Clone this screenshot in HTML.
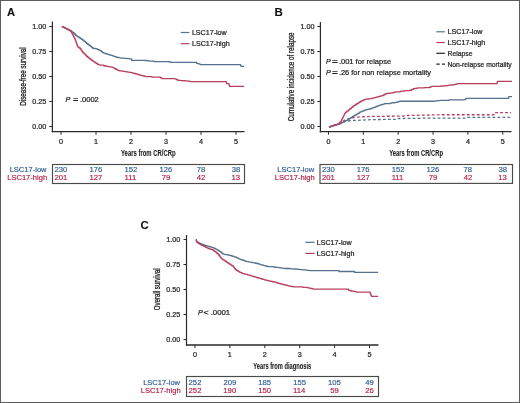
<!DOCTYPE html>
<html><head><meta charset="utf-8"><style>
html,body{margin:0;padding:0;background:#fff;}
svg{display:block;will-change:transform;font-family:"Liberation Sans",sans-serif;}
</style></head><body>
<svg width="520" height="403" viewBox="0 0 520 403">
<rect x="0.5" y="0.5" width="519" height="402" fill="#fff" stroke="#5c5c5c" stroke-width="1"/>
<text x="6.92" y="15.6" font-size="10.6" font-weight="bold" fill="#111" stroke="#111" stroke-width="0.1" textLength="8.07" lengthAdjust="spacingAndGlyphs">A</text>
<path d="M52.4,21.5V132.29999999999998" fill="none" stroke="#2a2a2a" stroke-width="1.2"/>
<path d="M51.8,131.7H244.5" fill="none" stroke="#2a2a2a" stroke-width="1.3"/>
<path d="M49.4,126.5H52.4" stroke="#2a2a2a" stroke-width="1"/>
<text x="32.17" y="129.1" font-size="7.2" fill="#1e1e1e" stroke="#1e1e1e" stroke-width="0.22">0.00</text>
<path d="M49.4,101.5H52.4" stroke="#2a2a2a" stroke-width="1"/>
<text x="32.19" y="104.1" font-size="7.2" fill="#1e1e1e" stroke="#1e1e1e" stroke-width="0.22">0.25</text>
<path d="M49.4,76.5H52.4" stroke="#2a2a2a" stroke-width="1"/>
<text x="32.17" y="79.1" font-size="7.2" fill="#1e1e1e" stroke="#1e1e1e" stroke-width="0.22">0.50</text>
<path d="M49.4,51.5H52.4" stroke="#2a2a2a" stroke-width="1"/>
<text x="32.19" y="54.1" font-size="7.2" fill="#1e1e1e" stroke="#1e1e1e" stroke-width="0.22">0.75</text>
<path d="M49.4,26.5H52.4" stroke="#2a2a2a" stroke-width="1"/>
<text x="32.17" y="29.1" font-size="7.2" fill="#1e1e1e" stroke="#1e1e1e" stroke-width="0.22">1.00</text>
<path d="M61,131.7V134.8" stroke="#2a2a2a" stroke-width="1"/>
<text x="59" y="143.9" font-size="7.2" fill="#1e1e1e" stroke="#1e1e1e" stroke-width="0.22">0</text>
<path d="M96,131.7V134.8" stroke="#2a2a2a" stroke-width="1"/>
<text x="93.9" y="143.9" font-size="7.2" fill="#1e1e1e" stroke="#1e1e1e" stroke-width="0.22">1</text>
<path d="M131,131.7V134.8" stroke="#2a2a2a" stroke-width="1"/>
<text x="129" y="143.9" font-size="7.2" fill="#1e1e1e" stroke="#1e1e1e" stroke-width="0.22">2</text>
<path d="M166,131.7V134.8" stroke="#2a2a2a" stroke-width="1"/>
<text x="164.02" y="143.9" font-size="7.2" fill="#1e1e1e" stroke="#1e1e1e" stroke-width="0.22">3</text>
<path d="M201,131.7V134.8" stroke="#2a2a2a" stroke-width="1"/>
<text x="199.02" y="143.9" font-size="7.2" fill="#1e1e1e" stroke="#1e1e1e" stroke-width="0.22">4</text>
<path d="M236,131.7V134.8" stroke="#2a2a2a" stroke-width="1"/>
<text x="234" y="143.9" font-size="7.2" fill="#1e1e1e" stroke="#1e1e1e" stroke-width="0.22">5</text>
<text x="121" y="156.3" font-size="8.8" font-weight="bold" fill="#1e1e1e" stroke="#1e1e1e" stroke-width="0.1" textLength="54.64" lengthAdjust="spacingAndGlyphs">Years from CR/CRp</text>
<text transform="translate(25.9,105.71) rotate(-90)" font-size="8.7" fill="#1e1e1e" stroke="#1e1e1e" stroke-width="0.3" textLength="58.43" lengthAdjust="spacingAndGlyphs">Disease-free survival</text>
<polyline points="61.7,26.55 62.93,26.55 62.93,27.18 64.17,27.18 64.17,27.82 65.4,27.82 65.4,28.45 66.65,28.45 66.65,29.07 67.9,29.07 67.9,29.7 69.15,29.7 69.15,30.32 70.4,30.32 70.4,30.95 71.65,30.95 71.65,31.85 72.9,31.85 72.9,32.75 74.15,32.75 74.15,34 75.4,34 75.4,35.25 76.63,35.25 76.63,36.08 77.87,36.08 77.87,36.92 79.1,36.92 79.1,37.75 80.33,37.75 80.33,38.58 81.57,38.58 81.57,39.42 82.8,39.42 82.8,40.25 84.03,40.25 84.03,41.28 85.27,41.28 85.27,42.32 86.5,42.32 86.5,43.35 87.77,43.35 87.77,44.38 89.03,44.38 89.03,45.42 90.3,45.42 90.3,46.45 91.5,46.45 91.5,47.35 92.7,47.35 92.7,48.25 93.97,48.25 93.97,48.48 95.23,48.48 95.23,48.72 96.5,48.72 96.5,48.95 97.73,48.95 97.73,49.55 98.97,49.55 98.97,50.15 100.2,50.15 100.2,50.75 101.35,50.75 101.35,51.7 102.5,51.7 102.5,52.65 103.73,52.65 103.73,53.08 104.97,53.08 104.97,53.52 106.2,53.52 106.2,53.95 107.45,53.95 107.45,54.33 108.7,54.33 108.7,54.7 109.95,54.7 109.95,55.08 111.2,55.08 111.2,55.45 112.83,55.45 112.83,56.05 114.47,56.05 114.47,56.65 116.1,56.65 116.1,57.25 117.35,57.25 117.35,57.45 118.6,57.45 118.6,57.65 119.85,57.65 119.85,57.85 121.1,57.85 121.1,58.05 122.55,58.05 122.55,58.18 124,58.18 124,58.32 125.45,58.32 125.45,58.45 126.9,58.45 126.9,58.58 128.35,58.58 128.35,58.72 129.8,58.72 129.8,58.85 131.6,58.85 131.6,60.35 143.4,60.35 144.95,60.35 144.95,60.52 146.5,60.52 146.5,60.7 148.05,60.7 148.05,60.88 149.6,60.88 149.6,61.05 152,61.05 152,61.15 154,61.15 154,61.65 167.8,61.65 169.3,61.65 169.3,62 170.8,62 170.8,62.35 194.6,62.35 196.6,62.35 196.6,63.35 198,63.35 198,63.65 199.25,63.65 199.25,64.15 200.5,64.15 200.5,64.65 240.1,64.65 240.6,64.65 240.6,65.55 241.1,65.55 241.1,66.45 244.1,66.45" fill="none" stroke="#56728e" stroke-width="1.3" stroke-linejoin="round"/>
<polyline points="61.7,26.55 62.93,26.55 62.93,27.18 64.17,27.18 64.17,27.82 65.4,27.82 65.4,28.45 66.87,28.45 66.87,29.18 68.33,29.18 68.33,29.92 69.8,29.92 69.8,30.65 70.7,30.65 70.7,31.7 71.6,31.7 71.6,32.75 72.23,32.75 72.23,34.02 72.87,34.02 72.87,35.28 73.5,35.28 73.5,36.55 74.13,36.55 74.13,37.78 74.77,37.78 74.77,39.02 75.4,39.02 75.4,40.25 75.8,40.25 75.8,41.48 76.2,41.48 76.2,42.72 76.6,42.72 76.6,43.95 77.03,43.95 77.03,44.98 77.47,44.98 77.47,46.02 77.9,46.02 77.9,47.05 79.1,47.05 79.1,48 80.3,48 80.3,48.95 81.13,48.95 81.13,50.18 81.97,50.18 81.97,51.42 82.8,51.42 82.8,52.65 84.03,52.65 84.03,53.88 85.27,53.88 85.27,55.12 86.5,55.12 86.5,56.35 87.77,56.35 87.77,57.38 89.03,57.38 89.03,58.42 90.3,58.42 90.3,59.45 91.53,59.45 91.53,60.28 92.77,60.28 92.77,61.12 94,61.12 94,61.95 95.23,61.95 95.23,62.78 96.47,62.78 96.47,63.62 97.7,63.62 97.7,64.45 98.85,64.45 98.85,64.8 100,64.8 100,65.15 103.7,65.15 103.7,65.75 105.15,65.75 105.15,66.02 106.6,66.02 106.6,66.28 108.05,66.28 108.05,66.55 109.5,66.55 109.5,66.82 110.95,66.82 110.95,67.08 112.4,67.08 112.4,67.35 113.63,67.35 113.63,68.05 114.87,68.05 114.87,68.75 116.1,68.75 116.1,69.45 117.35,69.45 117.35,70.05 118.6,70.05 118.6,70.65 120.15,70.65 120.15,70.88 121.7,70.88 121.7,71.1 123.25,71.1 123.25,71.33 124.8,71.33 124.8,71.55 126.35,71.55 126.35,71.8 127.9,71.8 127.9,72.05 129.45,72.05 129.45,72.3 131,72.3 131,72.55 132.55,72.55 132.55,73.03 134.1,73.03 134.1,73.5 135.65,73.5 135.65,73.97 137.2,73.97 137.2,74.45 138.45,74.45 138.45,74.75 139.7,74.75 139.7,75.05 140.95,75.05 140.95,75.35 142.2,75.35 142.2,75.65 143.43,75.65 143.43,75.98 144.67,75.98 144.67,76.32 145.9,76.32 145.9,76.65 150,76.65 152,76.65 152,77.05 158.9,77.05 160.4,77.05 160.4,77.8 161.9,77.8 161.9,78.55 174.8,78.55 174.8,78.85 176.3,78.85 176.3,79.6 177.8,79.6 177.8,80.35 179.21,80.35 179.21,80.45 180.63,80.45 180.63,80.55 182.04,80.55 182.04,80.65 183.46,80.65 183.46,80.75 184.87,80.75 184.87,80.85 186.29,80.85 186.29,80.95 187.7,80.95 187.7,81.05 189.7,81.05 189.7,81.55 225.8,81.55 226.2,81.55 226.2,82.55 226.6,82.55 226.6,83.55 228.7,83.55 228.7,83.65 228.97,83.65 228.97,84.58 229.23,84.58 229.23,85.52 229.5,85.52 229.5,86.45 244.1,86.45" fill="none" stroke="#b8405f" stroke-width="1.3" stroke-linejoin="round"/>
<path d="M180.8,32.5H189.4" stroke="#56728e" stroke-width="1.2"/>
<text x="191.92" y="34.8" font-size="7.0" fill="#1e1e1e" stroke="#1e1e1e" stroke-width="0.22" textLength="34.77" lengthAdjust="spacingAndGlyphs">LSC17-low</text>
<path d="M180.8,43.7H189.4" stroke="#b8405f" stroke-width="1.2"/>
<text x="191.91" y="46" font-size="7.0" fill="#1e1e1e" stroke="#1e1e1e" stroke-width="0.22" textLength="37.75" lengthAdjust="spacingAndGlyphs">LSC17-high</text>
<text x="65.58" y="101.6" font-size="7.2" font-style="italic" fill="#1e1e1e" stroke="#1e1e1e" stroke-width="0.22">P</text>
<text x="72.93" y="101.6" font-size="7.6" font-weight="bold" fill="#1e1e1e" stroke="#1e1e1e" stroke-width="0.1" textLength="5.24" lengthAdjust="spacingAndGlyphs">=</text>
<text x="79.91" y="101.6" font-size="7.2" fill="#1e1e1e" stroke="#1e1e1e" stroke-width="0.22" textLength="18.87" lengthAdjust="spacingAndGlyphs">.0002</text>
<rect x="52.5" y="164.5" width="192.0" height="19.0" fill="none" stroke="#4a4a4a" stroke-width="1.15"/>
<text x="9.65" y="172.2" font-size="7.55" fill="#2d5c90" stroke="#2d5c90" stroke-width="0.16">LSC17-low</text>
<text x="7.22" y="180.4" font-size="7.55" fill="#b51d41" stroke="#b51d41" stroke-width="0.16">LSC17-high</text>
<text x="54.53" y="172.2" font-size="7.7" fill="#2d5c90" stroke="#2d5c90" stroke-width="0.16">230</text>
<text x="54.57" y="180.4" font-size="7.7" fill="#b51d41" stroke="#b51d41" stroke-width="0.16">201</text>
<text x="89.45" y="172.2" font-size="7.7" fill="#2d5c90" stroke="#2d5c90" stroke-width="0.16">176</text>
<text x="89.48" y="180.4" font-size="7.7" fill="#b51d41" stroke="#b51d41" stroke-width="0.16">127</text>
<text x="124.48" y="172.2" font-size="7.7" fill="#2d5c90" stroke="#2d5c90" stroke-width="0.16">152</text>
<text x="124.47" y="180.4" font-size="7.7" fill="#b51d41" stroke="#b51d41" stroke-width="0.16">111</text>
<text x="159.45" y="172.2" font-size="7.7" fill="#2d5c90" stroke="#2d5c90" stroke-width="0.16">126</text>
<text x="161.7" y="180.4" font-size="7.7" fill="#b51d41" stroke="#b51d41" stroke-width="0.16">79</text>
<text x="196.69" y="172.2" font-size="7.7" fill="#2d5c90" stroke="#2d5c90" stroke-width="0.16">78</text>
<text x="196.82" y="180.4" font-size="7.7" fill="#b51d41" stroke="#b51d41" stroke-width="0.16">42</text>
<text x="231.74" y="172.2" font-size="7.7" fill="#2d5c90" stroke="#2d5c90" stroke-width="0.16">38</text>
<text x="231.59" y="180.4" font-size="7.7" fill="#b51d41" stroke="#b51d41" stroke-width="0.16">13</text>
<text x="274.63" y="15.6" font-size="10.6" font-weight="bold" fill="#111" stroke="#111" stroke-width="0.1" textLength="8.29" lengthAdjust="spacingAndGlyphs">B</text>
<path d="M320.4,22V132.2" fill="none" stroke="#2a2a2a" stroke-width="1.2"/>
<path d="M319.79999999999995,131.6H511.5" fill="none" stroke="#2a2a2a" stroke-width="1.3"/>
<path d="M317.4,126.5H320.4" stroke="#2a2a2a" stroke-width="1"/>
<text x="300.47" y="129.1" font-size="7.2" fill="#1e1e1e" stroke="#1e1e1e" stroke-width="0.22">0.00</text>
<path d="M317.4,101.5H320.4" stroke="#2a2a2a" stroke-width="1"/>
<text x="300.49" y="104.1" font-size="7.2" fill="#1e1e1e" stroke="#1e1e1e" stroke-width="0.22">0.25</text>
<path d="M317.4,76.5H320.4" stroke="#2a2a2a" stroke-width="1"/>
<text x="300.47" y="79.1" font-size="7.2" fill="#1e1e1e" stroke="#1e1e1e" stroke-width="0.22">0.50</text>
<path d="M317.4,51.5H320.4" stroke="#2a2a2a" stroke-width="1"/>
<text x="300.49" y="54.1" font-size="7.2" fill="#1e1e1e" stroke="#1e1e1e" stroke-width="0.22">0.75</text>
<path d="M317.4,26.5H320.4" stroke="#2a2a2a" stroke-width="1"/>
<text x="300.47" y="29.1" font-size="7.2" fill="#1e1e1e" stroke="#1e1e1e" stroke-width="0.22">1.00</text>
<path d="M328.5,131.6V134.7" stroke="#2a2a2a" stroke-width="1"/>
<text x="326.5" y="143.9" font-size="7.2" fill="#1e1e1e" stroke="#1e1e1e" stroke-width="0.22">0</text>
<path d="M363.35,131.6V134.7" stroke="#2a2a2a" stroke-width="1"/>
<text x="361.25" y="143.9" font-size="7.2" fill="#1e1e1e" stroke="#1e1e1e" stroke-width="0.22">1</text>
<path d="M398.2,131.6V134.7" stroke="#2a2a2a" stroke-width="1"/>
<text x="396.2" y="143.9" font-size="7.2" fill="#1e1e1e" stroke="#1e1e1e" stroke-width="0.22">2</text>
<path d="M433.05,131.6V134.7" stroke="#2a2a2a" stroke-width="1"/>
<text x="431.07" y="143.9" font-size="7.2" fill="#1e1e1e" stroke="#1e1e1e" stroke-width="0.22">3</text>
<path d="M467.9,131.6V134.7" stroke="#2a2a2a" stroke-width="1"/>
<text x="465.92" y="143.9" font-size="7.2" fill="#1e1e1e" stroke="#1e1e1e" stroke-width="0.22">4</text>
<path d="M502.75,131.6V134.7" stroke="#2a2a2a" stroke-width="1"/>
<text x="500.75" y="143.9" font-size="7.2" fill="#1e1e1e" stroke="#1e1e1e" stroke-width="0.22">5</text>
<text x="389.3" y="156.2" font-size="8.8" font-weight="bold" fill="#1e1e1e" stroke="#1e1e1e" stroke-width="0.1" textLength="53.64" lengthAdjust="spacingAndGlyphs">Years from CR/CRp</text>
<text transform="translate(293.8,121.22) rotate(-90)" font-size="8.7" fill="#1e1e1e" stroke="#1e1e1e" stroke-width="0.3" textLength="88.8" lengthAdjust="spacingAndGlyphs">Cumulative incidence of relapse</text>
<polyline points="329,126.95 339.9,122.95 344.8,121.55 347.8,121.05 351.8,120.55 374.6,119.55 396.8,119.35 397.5,118.55 420,118.25 440,118.05 466,118.05 467,117.45 511,117.45" fill="none" stroke="#56728e" stroke-width="1.3" stroke-linejoin="round" stroke-dasharray="2.8 2.2"/>
<polyline points="329,126.95 339.9,123.45 344.8,120.05 350.8,118.05 357.7,117.05 374.6,116.35 403.5,116.15 404.6,115.55 420,115.15 442.8,114.75 493.9,114.75 494.5,112.55 511,112.55" fill="none" stroke="#b8405f" stroke-width="1.3" stroke-linejoin="round" stroke-dasharray="2.8 2.2"/>
<polyline points="329,126.95 330.41,126.95 330.41,126.52 331.83,126.52 331.83,126.09 333.24,126.09 333.24,125.66 334.66,125.66 334.66,125.24 336.07,125.24 336.07,124.81 337.49,124.81 337.49,124.38 338.9,124.38 338.9,123.95 340.23,123.95 340.23,123.28 341.57,123.28 341.57,122.62 342.9,122.62 342.9,121.95 344.2,121.95 344.2,121.32 345.5,121.32 345.5,120.68 346.8,120.68 346.8,120.05 348.13,120.05 348.13,119.22 349.47,119.22 349.47,118.38 350.8,118.38 350.8,117.55 352.13,117.55 352.13,116.72 353.47,116.72 353.47,115.88 354.8,115.88 354.8,115.05 356.43,115.05 356.43,114.05 358.07,114.05 358.07,113.05 359.7,113.05 359.7,112.05 360.95,112.05 360.95,111.55 362.2,111.55 362.2,111.05 363.45,111.05 363.45,110.55 364.7,110.55 364.7,110.05 366.02,110.05 366.02,109.72 367.35,109.72 367.35,109.4 368.68,109.4 368.68,109.08 370,109.08 370,108.75 371.5,108.75 371.5,108.18 373,108.18 373,107.62 374.5,107.62 374.5,107.05 375.97,107.05 375.97,106.48 377.43,106.48 377.43,105.92 378.9,105.92 378.9,105.35 380.3,105.35 380.3,104.92 381.7,104.92 381.7,104.5 383.1,104.5 383.1,104.08 384.5,104.08 384.5,103.65 390.1,103.65 390.1,103.15 391.5,103.15 391.5,102.95 392.9,102.95 392.9,102.75 394.3,102.75 394.3,102.55 395.7,102.55 395.7,102.35 397,102.35 397,101.98 398.3,101.98 398.3,101.62 399.6,101.62 399.6,101.25 432.9,101.25 434.38,101.25 434.38,101.07 435.86,101.07 435.86,100.89 437.34,100.89 437.34,100.71 438.82,100.71 438.82,100.53 440.3,100.53 440.3,100.35 449,100.35 449,99.85 463.9,99.85 463.9,99.55 465.8,99.55 465.8,98.35 508.2,98.35 508.5,98.35 508.5,97.45 508.8,97.45 508.8,96.55 512,96.55" fill="none" stroke="#56728e" stroke-width="1.3" stroke-linejoin="round"/>
<polyline points="329,126.95 330.48,126.95 330.48,126.45 331.95,126.45 331.95,125.95 333.42,125.95 333.42,125.45 334.9,125.45 334.9,124.95 336.23,124.95 336.23,124.45 337.57,124.45 337.57,123.95 338.9,123.95 338.9,123.45 339.9,123.45 339.9,122.25 340.9,122.25 340.9,121.05 341.4,121.05 341.4,120.05 341.9,120.05 341.9,119.05 342.4,119.05 342.4,118.05 342.9,118.05 342.9,117.05 343.38,117.05 343.38,116.05 343.85,116.05 343.85,115.05 344.32,115.05 344.32,114.05 344.8,114.05 344.8,113.05 345.8,113.05 345.8,112.05 346.8,112.05 346.8,111.05 348.3,111.05 348.3,109.85 349.8,109.85 349.8,108.65 351.3,108.65 351.3,107.4 352.8,107.4 352.8,106.15 354.1,106.15 354.1,105.32 355.4,105.32 355.4,104.48 356.7,104.48 356.7,103.65 358.03,103.65 358.03,102.82 359.37,102.82 359.37,101.98 360.7,101.98 360.7,101.15 362.03,101.15 362.03,100.55 363.37,100.55 363.37,99.95 364.7,99.95 364.7,99.35 366.02,99.35 366.02,99.17 367.35,99.17 367.35,99 368.68,99 368.68,98.83 370,98.83 370,98.65 371.5,98.65 371.5,98.28 373,98.28 373,97.92 374.5,97.92 374.5,97.55 375.97,97.55 375.97,97.18 377.43,97.18 377.43,96.82 378.9,96.82 378.9,96.45 380.6,96.45 380.6,95.9 382.3,95.9 382.3,95.35 383.95,95.35 383.95,94.5 385.6,94.5 385.6,93.65 387.1,93.65 387.1,93.45 388.6,93.45 388.6,93.25 390.1,93.25 390.1,93.05 391.5,93.05 391.5,92.78 392.9,92.78 392.9,92.5 394.3,92.5 394.3,92.22 395.7,92.22 395.7,91.95 400.1,91.95 400.1,91.45 401.5,91.45 401.5,91.22 402.9,91.22 402.9,91 404.3,91 404.3,90.78 405.7,90.78 405.7,90.55 410.2,90.55 410.2,90.25 411.85,90.25 411.85,89.45 413.5,89.45 413.5,88.65 415,88.65 415,88.42 416.5,88.42 416.5,88.18 418,88.18 418,87.95 424.2,87.95 424.2,87.65 429.2,87.65 429.2,87.25 430.4,87.25 430.4,86.85 431.6,86.85 431.6,86.45 440.3,86.45 440.3,86.15 441.8,86.15 441.8,86.01 443.3,86.01 443.3,85.87 444.8,85.87 444.8,85.73 446.3,85.73 446.3,85.59 447.8,85.59 447.8,85.45 449.35,85.45 449.35,85.22 450.9,85.22 450.9,85 452.45,85 452.45,84.78 454,84.78 454,84.55 455.23,84.55 455.23,84.25 456.47,84.25 456.47,83.95 457.7,83.95 457.7,83.65 497,83.65 497.2,83.65 497.2,82.5 497.4,82.5 497.4,81.35 512,81.35" fill="none" stroke="#b8405f" stroke-width="1.3" stroke-linejoin="round"/>
<path d="M436.3,31.8H444.8" stroke="#56728e" stroke-width="1.2"/>
<text x="447.41" y="34.1" font-size="7.0" fill="#1e1e1e" stroke="#1e1e1e" stroke-width="0.22" textLength="35.17" lengthAdjust="spacingAndGlyphs">LSC17-low</text>
<path d="M436.3,42.5H444.8" stroke="#b8405f" stroke-width="1.2"/>
<text x="447.41" y="44.8" font-size="7.0" fill="#1e1e1e" stroke="#1e1e1e" stroke-width="0.22" textLength="37.96" lengthAdjust="spacingAndGlyphs">LSC17-high</text>
<path d="M436.3,53.3H444.8" stroke="#222" stroke-width="1.2"/>
<text x="447.44" y="55.6" font-size="7.0" fill="#1e1e1e" stroke="#1e1e1e" stroke-width="0.22" textLength="25.17" lengthAdjust="spacingAndGlyphs">Relapse</text>
<path d="M436.3,64.2H444.8" stroke="#222" stroke-width="1.2" stroke-dasharray="3.4 2.3"/>
<text x="447.45" y="66.5" font-size="7.0" fill="#1e1e1e" stroke="#1e1e1e" stroke-width="0.22" textLength="64.27" lengthAdjust="spacingAndGlyphs">Non-relapse mortality</text>
<text x="325.88" y="63.5" font-size="7.2" font-style="italic" fill="#1e1e1e" stroke="#1e1e1e" stroke-width="0.22">P</text>
<text x="332.09" y="63.5" font-size="7.6" font-weight="bold" fill="#1e1e1e" stroke="#1e1e1e" stroke-width="0.1" textLength="5.82" lengthAdjust="spacingAndGlyphs">=</text>
<text x="338.91" y="63.5" font-size="7.2" fill="#1e1e1e" stroke="#1e1e1e" stroke-width="0.22" textLength="52.22" lengthAdjust="spacingAndGlyphs">.001 for relapse</text>
<text x="325.88" y="75" font-size="7.2" font-style="italic" fill="#1e1e1e" stroke="#1e1e1e" stroke-width="0.22">P</text>
<text x="332.09" y="75" font-size="7.6" font-weight="bold" fill="#1e1e1e" stroke="#1e1e1e" stroke-width="0.1" textLength="5.82" lengthAdjust="spacingAndGlyphs">=</text>
<text x="338.92" y="75" font-size="7.2" fill="#1e1e1e" stroke="#1e1e1e" stroke-width="0.22" textLength="92.09" lengthAdjust="spacingAndGlyphs">.26 for non relapse mortality</text>
<rect x="320.0" y="164.5" width="192.5" height="18.900000000000006" fill="none" stroke="#4a4a4a" stroke-width="1.15"/>
<text x="277.25" y="172.2" font-size="7.55" fill="#2d5c90" stroke="#2d5c90" stroke-width="0.16">LSC17-low</text>
<text x="274.82" y="180.3" font-size="7.55" fill="#b51d41" stroke="#b51d41" stroke-width="0.16">LSC17-high</text>
<text x="322.03" y="172.2" font-size="7.7" fill="#2d5c90" stroke="#2d5c90" stroke-width="0.16">230</text>
<text x="322.07" y="180.3" font-size="7.7" fill="#b51d41" stroke="#b51d41" stroke-width="0.16">201</text>
<text x="356.8" y="172.2" font-size="7.7" fill="#2d5c90" stroke="#2d5c90" stroke-width="0.16">176</text>
<text x="356.83" y="180.3" font-size="7.7" fill="#b51d41" stroke="#b51d41" stroke-width="0.16">127</text>
<text x="391.68" y="172.2" font-size="7.7" fill="#2d5c90" stroke="#2d5c90" stroke-width="0.16">152</text>
<text x="391.67" y="180.3" font-size="7.7" fill="#b51d41" stroke="#b51d41" stroke-width="0.16">111</text>
<text x="426.5" y="172.2" font-size="7.7" fill="#2d5c90" stroke="#2d5c90" stroke-width="0.16">126</text>
<text x="428.75" y="180.3" font-size="7.7" fill="#b51d41" stroke="#b51d41" stroke-width="0.16">79</text>
<text x="463.59" y="172.2" font-size="7.7" fill="#2d5c90" stroke="#2d5c90" stroke-width="0.16">78</text>
<text x="463.72" y="180.3" font-size="7.7" fill="#b51d41" stroke="#b51d41" stroke-width="0.16">42</text>
<text x="498.49" y="172.2" font-size="7.7" fill="#2d5c90" stroke="#2d5c90" stroke-width="0.16">38</text>
<text x="498.34" y="180.3" font-size="7.7" fill="#b51d41" stroke="#b51d41" stroke-width="0.16">13</text>
<text x="140.44" y="228.8" font-size="10.6" font-weight="bold" fill="#111" stroke="#111" stroke-width="0.1" textLength="8.17" lengthAdjust="spacingAndGlyphs">C</text>
<path d="M186.5,235V345.6" fill="none" stroke="#2a2a2a" stroke-width="1.2"/>
<path d="M185.9,345.0H378.5" fill="none" stroke="#2a2a2a" stroke-width="1.3"/>
<path d="M183.5,339.5H186.5" stroke="#2a2a2a" stroke-width="1"/>
<text x="166.17" y="342.1" font-size="7.2" fill="#1e1e1e" stroke="#1e1e1e" stroke-width="0.22">0.00</text>
<path d="M183.5,314.5H186.5" stroke="#2a2a2a" stroke-width="1"/>
<text x="166.19" y="317.1" font-size="7.2" fill="#1e1e1e" stroke="#1e1e1e" stroke-width="0.22">0.25</text>
<path d="M183.5,289.5H186.5" stroke="#2a2a2a" stroke-width="1"/>
<text x="166.17" y="292.1" font-size="7.2" fill="#1e1e1e" stroke="#1e1e1e" stroke-width="0.22">0.50</text>
<path d="M183.5,264.5H186.5" stroke="#2a2a2a" stroke-width="1"/>
<text x="166.19" y="267.1" font-size="7.2" fill="#1e1e1e" stroke="#1e1e1e" stroke-width="0.22">0.75</text>
<path d="M183.5,239.5H186.5" stroke="#2a2a2a" stroke-width="1"/>
<text x="166.17" y="242.1" font-size="7.2" fill="#1e1e1e" stroke="#1e1e1e" stroke-width="0.22">1.00</text>
<path d="M195,345.0V348.1" stroke="#2a2a2a" stroke-width="1"/>
<text x="193" y="357.3" font-size="7.2" fill="#1e1e1e" stroke="#1e1e1e" stroke-width="0.22">0</text>
<path d="M229.9,345.0V348.1" stroke="#2a2a2a" stroke-width="1"/>
<text x="227.8" y="357.3" font-size="7.2" fill="#1e1e1e" stroke="#1e1e1e" stroke-width="0.22">1</text>
<path d="M264.8,345.0V348.1" stroke="#2a2a2a" stroke-width="1"/>
<text x="262.8" y="357.3" font-size="7.2" fill="#1e1e1e" stroke="#1e1e1e" stroke-width="0.22">2</text>
<path d="M299.7,345.0V348.1" stroke="#2a2a2a" stroke-width="1"/>
<text x="297.72" y="357.3" font-size="7.2" fill="#1e1e1e" stroke="#1e1e1e" stroke-width="0.22">3</text>
<path d="M334.6,345.0V348.1" stroke="#2a2a2a" stroke-width="1"/>
<text x="332.62" y="357.3" font-size="7.2" fill="#1e1e1e" stroke="#1e1e1e" stroke-width="0.22">4</text>
<path d="M369.5,345.0V348.1" stroke="#2a2a2a" stroke-width="1"/>
<text x="367.5" y="357.3" font-size="7.2" fill="#1e1e1e" stroke="#1e1e1e" stroke-width="0.22">5</text>
<text x="253.3" y="369.4" font-size="8.8" font-weight="bold" fill="#1e1e1e" stroke="#1e1e1e" stroke-width="0.1" textLength="57.93" lengthAdjust="spacingAndGlyphs">Years from diagnosis</text>
<text transform="translate(159.9,310.19) rotate(-90)" font-size="8.7" fill="#1e1e1e" stroke="#1e1e1e" stroke-width="0.3" textLength="41.7" lengthAdjust="spacingAndGlyphs">Overall survival</text>
<polyline points="195.7,239.8 196.35,239.8 196.35,241.05 197,241.05 197,242.3 198.2,242.3 198.2,242.9 199.4,242.9 199.4,243.5 200.67,243.5 200.67,243.93 201.93,243.93 201.93,244.37 203.2,244.37 203.2,244.8 204.42,244.8 204.42,245.17 205.65,245.17 205.65,245.55 206.88,245.55 206.88,245.92 208.1,245.92 208.1,246.3 209.35,246.3 209.35,246.7 210.6,246.7 210.6,247.1 211.85,247.1 211.85,247.5 213.1,247.5 213.1,247.9 214.33,247.9 214.33,248.5 215.57,248.5 215.57,249.1 216.8,249.1 216.8,249.7 218.03,249.7 218.03,250.53 219.27,250.53 219.27,251.37 220.5,251.37 220.5,252.2 221.75,252.2 221.75,253.15 223,253.15 223,254.1 224.25,254.1 224.25,254.32 225.5,254.32 225.5,254.55 226.75,254.55 226.75,254.78 228,254.78 228,255 229.23,255 229.23,255.33 230.47,255.33 230.47,255.67 231.7,255.67 231.7,256 232.93,256 232.93,256.4 234.17,256.4 234.17,256.8 235.4,256.8 235.4,257.2 236.63,257.2 236.63,257.83 237.87,257.83 237.87,258.47 239.1,258.47 239.1,259.1 240.55,259.1 240.55,259.55 242,259.55 242,260 243.2,260 243.2,260.43 244.4,260.43 244.4,260.87 245.6,260.87 245.6,261.3 247,261.3 247,261.58 248.4,261.58 248.4,261.85 249.8,261.85 249.8,262.12 251.2,262.12 251.2,262.4 252.57,262.4 252.57,262.68 253.95,262.68 253.95,262.95 255.32,262.95 255.32,263.23 256.7,263.23 256.7,263.5 258.1,263.5 258.1,263.93 259.5,263.93 259.5,264.35 260.9,264.35 260.9,264.78 262.3,264.78 262.3,265.2 263.7,265.2 263.7,265.55 265.1,265.55 265.1,265.9 266.5,265.9 266.5,266.25 267.9,266.25 267.9,266.6 273.5,266.6 273.5,267.1 274.9,267.1 274.9,267.25 276.3,267.25 276.3,267.4 277.7,267.4 277.7,267.55 279.1,267.55 279.1,267.7 280.48,267.7 280.48,267.9 281.85,267.9 281.85,268.1 283.23,268.1 283.23,268.3 284.6,268.3 284.6,268.5 290,268.5 290,268.9 294,268.9 294,269 295.48,269 295.48,269.13 296.97,269.13 296.97,269.27 298.45,269.27 298.45,269.4 299.93,269.4 299.93,269.53 301.42,269.53 301.42,269.67 302.9,269.67 302.9,269.8 304.28,269.8 304.28,269.96 305.66,269.96 305.66,270.12 307.04,270.12 307.04,270.28 308.42,270.28 308.42,270.44 309.8,270.44 309.8,270.6 337.3,270.6 339,270.6 339,271.5 353,271.5 354.6,271.5 354.6,272.4 378.1,272.4" fill="none" stroke="#56728e" stroke-width="1.3" stroke-linejoin="round"/>
<polyline points="195.7,239.8 196.35,239.8 196.35,241.05 197,241.05 197,242.3 198.2,242.3 198.2,243.25 199.4,243.25 199.4,244.2 200.65,244.2 200.65,244.8 201.9,244.8 201.9,245.4 203.15,245.4 203.15,246 204.4,246 204.4,246.6 205.63,246.6 205.63,247.23 206.87,247.23 206.87,247.87 208.1,247.87 208.1,248.5 209.37,248.5 209.37,248.9 210.63,248.9 210.63,249.3 211.9,249.3 211.9,249.7 213.13,249.7 213.13,250.53 214.37,250.53 214.37,251.37 215.6,251.37 215.6,252.2 216.83,252.2 216.83,253.47 218.07,253.47 218.07,254.73 219.3,254.73 219.3,256 220.13,256 220.13,257.03 220.97,257.03 220.97,258.07 221.8,258.07 221.8,259.1 223.03,259.1 223.03,259.9 224.27,259.9 224.27,260.7 225.5,260.7 225.5,261.5 226.73,261.5 226.73,262.33 227.97,262.33 227.97,263.17 229.2,263.17 229.2,264 230.47,264 230.47,264.83 231.73,264.83 231.73,265.67 233,265.67 233,266.5 233.8,266.5 233.8,267.53 234.6,267.53 234.6,268.57 235.4,268.57 235.4,269.6 236.63,269.6 236.63,270.43 237.87,270.43 237.87,271.27 239.1,271.27 239.1,272.1 240.55,272.1 240.55,272.7 242,272.7 242,273.3 243.25,273.3 243.25,273.7 244.5,273.7 244.5,274.1 245.97,274.1 245.97,274.47 247.43,274.47 247.43,274.83 248.9,274.83 248.9,275.2 250.3,275.2 250.3,275.63 251.7,275.63 251.7,276.05 253.1,276.05 253.1,276.48 254.5,276.48 254.5,276.9 255.9,276.9 255.9,277.33 257.3,277.33 257.3,277.75 258.7,277.75 258.7,278.18 260.1,278.18 260.1,278.6 261.5,278.6 261.5,279 262.9,279 262.9,279.4 264.3,279.4 264.3,279.8 265.7,279.8 265.7,280.2 267.07,280.2 267.07,280.5 268.45,280.5 268.45,280.8 269.82,280.8 269.82,281.1 271.2,281.1 271.2,281.4 272.7,281.4 272.7,281.77 274.2,281.77 274.2,282.13 275.7,282.13 275.7,282.5 277.4,282.5 277.4,283.05 279.1,283.05 279.1,283.6 280.48,283.6 280.48,283.93 281.85,283.93 281.85,284.25 283.23,284.25 283.23,284.58 284.6,284.58 284.6,284.9 285.95,284.9 285.95,285.25 287.3,285.25 287.3,285.6 288.65,285.6 288.65,285.95 290,285.95 290,286.3 291.33,286.3 291.33,286.5 292.67,286.5 292.67,286.7 294,286.7 294,286.9 302.9,286.9 302.9,287.4 307.8,287.4 307.8,287.9 309.3,287.9 309.3,288.2 310.8,288.2 310.8,288.5 312.3,288.5 312.3,288.8 313.8,288.8 313.8,289.1 346.8,289.1 348.5,289.1 348.5,290.2 349.6,290.2 349.6,290.6 350.7,290.6 350.7,291 352.2,291 352.2,291.2 353.7,291.2 353.7,291.4 355.2,291.4 355.2,291.6 356.3,291.6 356.3,292.1 369.7,292.1 370.12,292.1 370.12,293.15 370.55,293.15 370.55,294.2 370.97,294.2 370.97,295.25 371.4,295.25 371.4,296.3 378.1,296.3" fill="none" stroke="#b8405f" stroke-width="1.3" stroke-linejoin="round"/>
<path d="M305.3,242.3H314.6" stroke="#56728e" stroke-width="1.2"/>
<text x="316.72" y="244.6" font-size="7.0" fill="#1e1e1e" stroke="#1e1e1e" stroke-width="0.22" textLength="34.87" lengthAdjust="spacingAndGlyphs">LSC17-low</text>
<path d="M305.3,253.4H314.6" stroke="#b8405f" stroke-width="1.2"/>
<text x="316.72" y="255.7" font-size="7.0" fill="#1e1e1e" stroke="#1e1e1e" stroke-width="0.22" textLength="37.65" lengthAdjust="spacingAndGlyphs">LSC17-high</text>
<text x="197.98" y="314.6" font-size="7.2" font-style="italic" fill="#1e1e1e" stroke="#1e1e1e" stroke-width="0.22">P</text>
<text x="203.56" y="314.6" font-size="7.6" fill="#1e1e1e" stroke="#1e1e1e" stroke-width="0.22" textLength="5.17" lengthAdjust="spacingAndGlyphs"><</text>
<text x="210.69" y="314.6" font-size="7.2" fill="#1e1e1e" stroke="#1e1e1e" stroke-width="0.22" textLength="19.49" lengthAdjust="spacingAndGlyphs">.0001</text>
<rect x="186.5" y="376.5" width="192.0" height="20.0" fill="none" stroke="#4a4a4a" stroke-width="1.15"/>
<text x="143.15" y="384.9" font-size="7.55" fill="#2d5c90" stroke="#2d5c90" stroke-width="0.16">LSC17-low</text>
<text x="140.72" y="392.8" font-size="7.55" fill="#b51d41" stroke="#b51d41" stroke-width="0.16">LSC17-high</text>
<text x="188.58" y="384.9" font-size="7.7" fill="#2d5c90" stroke="#2d5c90" stroke-width="0.16">252</text>
<text x="188.58" y="392.8" font-size="7.7" fill="#b51d41" stroke="#b51d41" stroke-width="0.16">252</text>
<text x="223.47" y="384.9" font-size="7.7" fill="#2d5c90" stroke="#2d5c90" stroke-width="0.16">209</text>
<text x="223.33" y="392.8" font-size="7.7" fill="#b51d41" stroke="#b51d41" stroke-width="0.16">190</text>
<text x="258.24" y="384.9" font-size="7.7" fill="#2d5c90" stroke="#2d5c90" stroke-width="0.16">185</text>
<text x="258.23" y="392.8" font-size="7.7" fill="#b51d41" stroke="#b51d41" stroke-width="0.16">150</text>
<text x="293.14" y="384.9" font-size="7.7" fill="#2d5c90" stroke="#2d5c90" stroke-width="0.16">155</text>
<text x="293.1" y="392.8" font-size="7.7" fill="#b51d41" stroke="#b51d41" stroke-width="0.16">114</text>
<text x="328.04" y="384.9" font-size="7.7" fill="#2d5c90" stroke="#2d5c90" stroke-width="0.16">105</text>
<text x="330.35" y="392.8" font-size="7.7" fill="#b51d41" stroke="#b51d41" stroke-width="0.16">59</text>
<text x="365.31" y="384.9" font-size="7.7" fill="#2d5c90" stroke="#2d5c90" stroke-width="0.16">49</text>
<text x="365.19" y="392.8" font-size="7.7" fill="#b51d41" stroke="#b51d41" stroke-width="0.16">26</text>
</svg>
</body></html>
